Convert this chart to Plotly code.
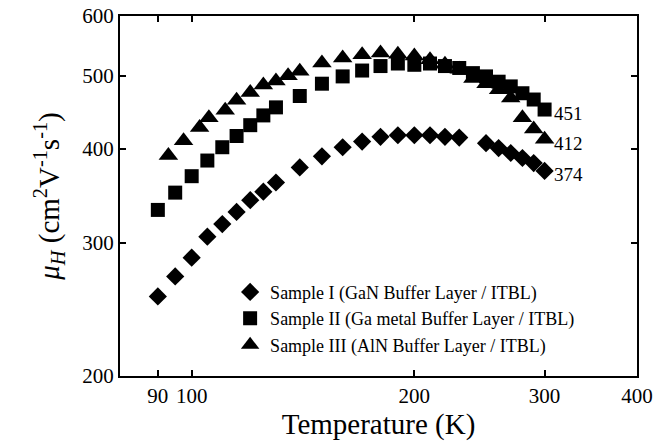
import numpy as np
import plotly.graph_objects as go

# Sample I (GaN buffer layer / ITBL)
T1 = [90, 95, 100, 105, 110, 115, 120, 125, 130, 140, 150, 160, 170, 180, 190, 200,
      210, 220, 230, 250, 260, 270, 280, 290, 300]
mu1 = [255, 271, 287, 306, 318, 330, 342, 351, 361, 378, 391, 402, 409, 415, 417, 417,
       417, 415, 414, 407, 401, 395, 389, 383, 374]

# Sample II (Ga metal buffer layer / ITBL)
T2 = [90, 95, 100, 105, 110, 115, 120, 125, 130, 140, 150, 160, 170, 180, 190, 200,
      210, 220, 230, 240, 250, 260, 270, 280, 290, 300]
mu2 = [332, 350, 368, 386, 402, 416, 430, 443, 454, 470, 488, 499, 508, 515, 519, 517,
       519, 515, 512, 504, 499, 491, 484, 474, 465, 451]

# Sample III (AlN buffer layer / ITBL)
T3 = [93, 97.5, 102.5, 105.5, 111, 115, 120, 125, 130, 135, 140, 150, 160, 170, 180,
      190, 200, 210, 220, 230, 240, 250, 260, 270, 280, 290, 300]
mu3 = [392, 410, 427, 440, 450, 464, 475, 486, 492, 500, 507, 520, 528, 533, 536,
       534, 531, 525, 518, 510, 496, 488, 479, 467, 440, 425, 412]

names = ["Sample I (GaN Buffer Layer / ITBL)",
         "Sample II (Ga metal Buffer Layer / ITBL)",
         "Sample III (AlN Buffer Layer / ITBL)"]

x_ticks = [90, 100, 200, 300, 400]
y_ticks = [200, 300, 400, 500, 600]
end_labels = ["451", "412", "374"]
end_values = [mu2[-1], mu3[-1], mu1[-1]]

FONT = "Liberation Serif, Times New Roman, serif"

fig = go.Figure()
fig.add_trace(go.Scatter(x=T1, y=mu1, mode="markers", name=names[0],
                         marker=dict(symbol="diamond", size=14, color="black")))
fig.add_trace(go.Scatter(x=T2, y=mu2, mode="markers", name=names[1],
                         marker=dict(symbol="square", size=14, color="black")))
fig.add_trace(go.Scatter(x=T3, y=mu3, mode="markers", name=names[2],
                         marker=dict(symbol="triangle-up", size=17, color="black")))

for lab, val in zip(end_labels, end_values):
    fig.add_annotation(x=np.log10(300), y=np.log10(val), text=lab, showarrow=False,
                       xanchor="left", yanchor="middle", xshift=7, yshift=-4,
                       font=dict(family=FONT, size=19, color="black"))

axis_common = dict(showgrid=False, zeroline=False, showline=True, linecolor="black",
                   linewidth=2, mirror="ticks", ticks="inside", ticklen=6,
                   tickwidth=1.5, tickcolor="black",
                   tickfont=dict(family=FONT, size=21, color="black"))

fig.update_xaxes(type="log", range=[np.log10(80), np.log10(400)],
                 tickvals=x_ticks, ticktext=[str(v) for v in x_ticks],
                 title=dict(text="Temperature (K)", font=dict(family=FONT, size=29, color="black"),
                            standoff=4),
                 **axis_common)
fig.update_yaxes(type="log", range=[np.log10(200), np.log10(600)],
                 tickvals=y_ticks, ticktext=[str(v) for v in y_ticks],
                 title=dict(text="<i>μ</i><sub><i>H</i></sub> (cm<sup>2</sup>V<sup>-1</sup>s<sup>-1</sup>)",
                            font=dict(family=FONT, size=29, color="black"), standoff=14),
                 **axis_common)

fig.update_layout(
    width=668, height=447,
    margin=dict(l=120, r=31, t=16, b=71, autoexpand=False),
    paper_bgcolor="white", plot_bgcolor="white",
    legend=dict(x=0.213, y=0.284, xanchor="left", yanchor="top",
                bgcolor="rgba(0,0,0,0)", font=dict(family=FONT, size=18, color="black"),
                itemsizing="trace", tracegroupgap=0),
)

fig.write_html("out.html")
